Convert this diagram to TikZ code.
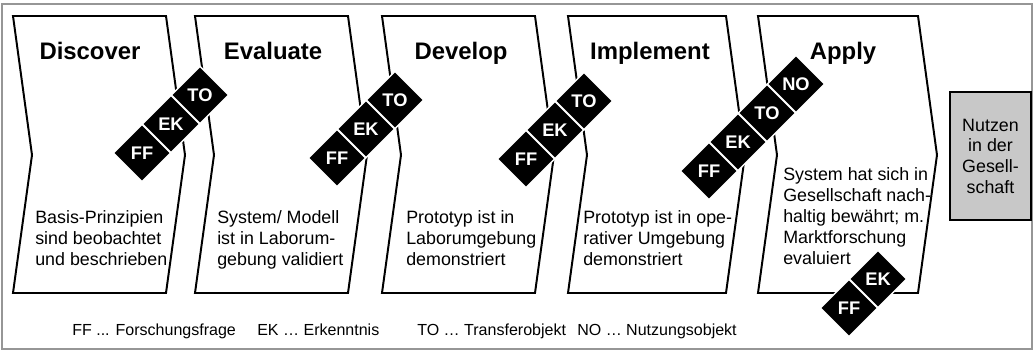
\documentclass[tikz,border=0pt]{standalone}
\usepackage{fontspec}
\setmainfont{Liberation Sans}
\usepackage{tikz}
\usetikzlibrary{positioning,shapes.geometric}
\definecolor{boxgrey}{RGB}{200,200,200}
\definecolor{framegrey}{RGB}{150,150,150}

\begin{document}
\begin{tikzpicture}[
  stage/.style={draw=black, fill=white, line width=1.4pt, line join=miter},
  tag/.style={diamond, on grid, fill=black, draw=white, line width=1pt, inner sep=0pt, minimum width=1.45cm, minimum height=1.45cm, text=white, font=\fontsize{13}{15}\selectfont\bfseries},
  phase/.style={font=\fontsize{17}{20}\selectfont\bfseries, anchor=base},
  desc/.style={font=\fontsize{12.7}{15}\selectfont, align=left, anchor=north west, inner sep=0pt},
  legend/.style={font=\fontsize{11.4}{14}\selectfont, anchor=base west, inner sep=0pt}
]
  \useasboundingbox (0,0) rectangle (25.85,8.775);
  \draw[framegrey, line width=0.8pt] (0.05,0.05) rectangle (25.8,8.675);

  %--- Phases ---
  \draw[stage] (0.325,8.375) -- (4.15,8.375) -- (4.625,4.9) -- (4.15,1.45) -- (0.325,1.45) -- (0.8,4.9) -- cycle;
  \draw[stage] (4.875,8.375) -- (8.7,8.375) -- (9.175,4.9) -- (8.7,1.45) -- (4.875,1.45) -- (5.35,4.9) -- cycle;
  \draw[stage] (9.55,8.375) -- (13.375,8.375) -- (13.85,4.9) -- (13.375,1.45) -- (9.55,1.45) -- (10.025,4.9) -- cycle;
  \draw[stage] (14.2,8.375) -- (18.15,8.375) -- (18.625,4.9) -- (18.15,1.45) -- (14.2,1.45) -- (14.675,4.9) -- cycle;
  \draw[stage] (18.95,8.375) -- (22.95,8.375) -- (23.425,4.9) -- (22.95,1.45) -- (18.95,1.45) -- (19.425,4.9) -- cycle;

  \node[phase] (discover) at (2.25,7.275) {Discover};
  \node[phase] (evaluate) at (6.825,7.275) {Evaluate};
  \node[phase] (develop) at (11.525,7.275) {Develop};
  \node[phase] (implement) at (16.25,7.275) {Implement};
  \node[phase] (apply) at (21.075,7.275) {Apply};

  \node[desc] (d1) at (0.875,3.525) {Basis-Prinzipien\\sind beobachtet\\und beschrieben};
  \node[desc] (d2) at (5.425,3.525) {System/ Modell\\ist in Laborum-\\gebung validiert};
  \node[desc] (d3) at (10.15,3.525) {Prototyp ist in\\Laborumgebung\\demonstriert};
  \node[desc] (d4) at (14.575,3.525) {Prototyp ist in ope-\\rativer Umgebung\\demonstriert};
  \node[desc] (d5) at (19.575,4.6) {System hat sich in\\Gesellschaft nach-\\haltig bewährt; m.\\Marktforschung\\evaluiert};

  %--- Benefit ---
  \node[draw=black, fill=boxgrey, line width=1.4pt, minimum width=2.025cm, minimum height=3.2cm, align=center, font=\fontsize{12.7}{14.7}\selectfont] (nutzen) at (24.7625,4.875) {Nutzen\\in der\\Gesell-\\schaft};

  %--- Transfer tags ---
  \node[tag] (ff1) at (3.55,4.95) {FF};
  \node[tag, above right=0.725cm and 0.725cm of ff1] (ek1) {EK};
  \node[tag, above right=0.725cm and 0.725cm of ek1] (to1) {TO};

  \node[tag] (ff2) at (8.425,4.825) {FF};
  \node[tag, above right=0.725cm and 0.725cm of ff2] (ek2) {EK};
  \node[tag, above right=0.725cm and 0.725cm of ek2] (to2) {TO};

  \node[tag] (ff3) at (13.15,4.8) {FF};
  \node[tag, above right=0.725cm and 0.725cm of ff3] (ek3) {EK};
  \node[tag, above right=0.725cm and 0.725cm of ek3] (to3) {TO};

  \node[tag] (ff4) at (17.725,4.5) {FF};
  \node[tag, above right=0.725cm and 0.725cm of ff4] (ek4) {EK};
  \node[tag, above right=0.725cm and 0.725cm of ek4] (to4) {TO};
  \node[tag, above right=0.725cm and 0.725cm of to4] (no4) {NO};

  \node[tag] (ff5) at (21.225,1.075) {FF};
  \node[tag, above right=0.725cm and 0.725cm of ff5] (ek5) {EK};

  %--- Legend ---
  \node[legend] (lgff) at (1.8,0.38) {FF ... Forschungsfrage};
  \node[legend] (lgek) at (6.425,0.38) {EK … Erkenntnis};
  \node[legend] (lgto) at (10.425,0.38) {TO … Transferobjekt};
  \node[legend] (lgno) at (14.425,0.38) {NO … Nutzungsobjekt};
\end{tikzpicture}
\end{document}
